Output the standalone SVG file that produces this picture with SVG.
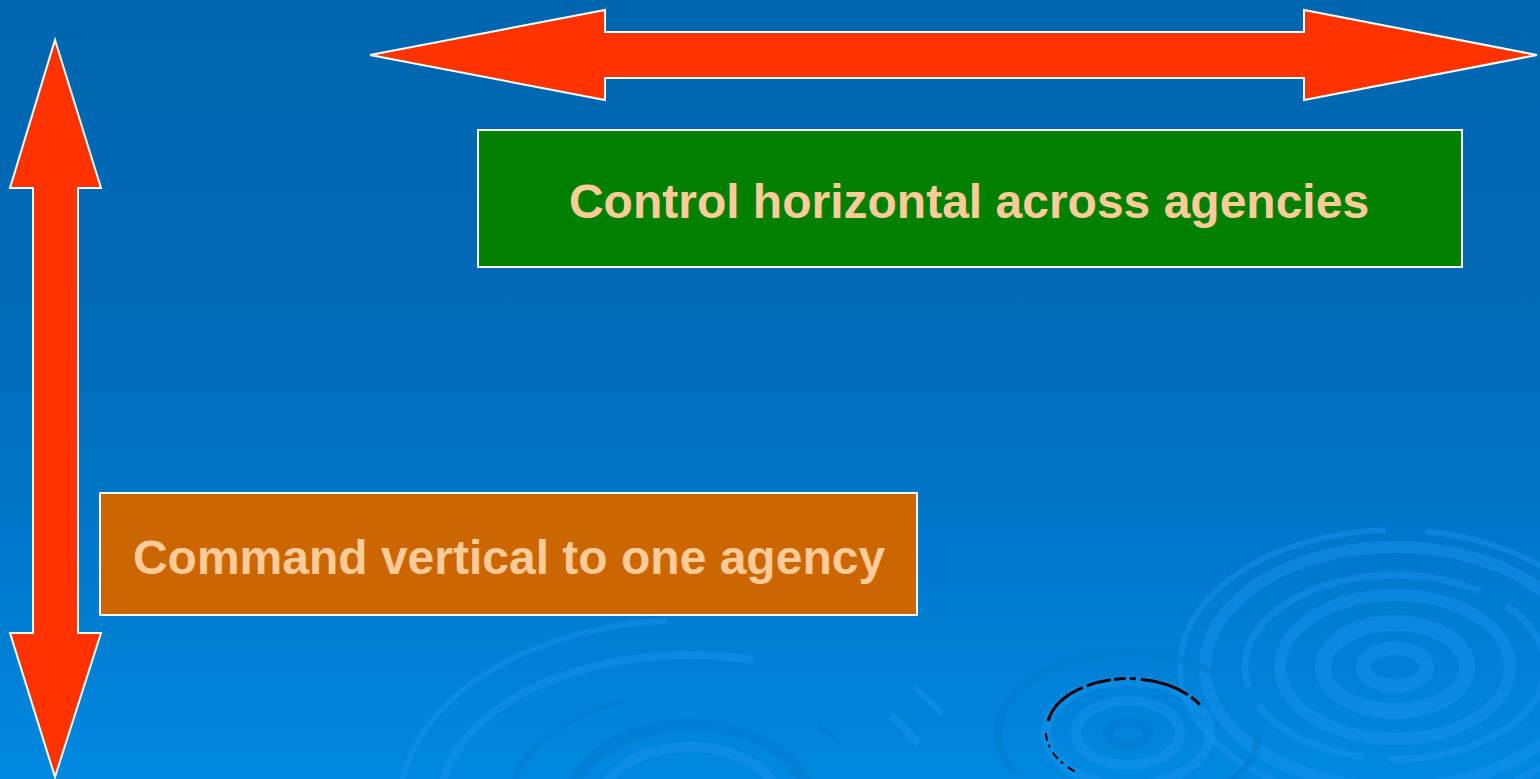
<svg xmlns="http://www.w3.org/2000/svg" width="1540" height="779" viewBox="0 0 1540 779">
<defs>
<linearGradient id="bg" x1="0" y1="0" x2="0" y2="1">
<stop offset="0" stop-color="#0066AF"/>
<stop offset="0.45" stop-color="#006BB8"/>
<stop offset="1" stop-color="#0088E0"/>
</linearGradient>
<style>
.arrow{fill:#FF3300;stroke:#FFFFFF;stroke-width:2;stroke-linejoin:miter}
.box{stroke:#FFFFFF;stroke-width:2}
.lbl{font-family:"Liberation Sans",Arial,sans-serif;font-weight:bold;fill:#FFCC99;text-anchor:middle}
.rip{fill:none;stroke:#1A95F0;stroke-opacity:0.45}
.rip2{fill:none;stroke:#0078CC;stroke-opacity:0.5}
</style>
</defs>
<rect width="1540" height="779" fill="url(#bg)"/>
<g id="ripples">
<g transform="translate(1395,667)">
<ellipse class="rip" rx="215" ry="137" stroke-width="6" stroke-dasharray="300 30 500 40"/>
<ellipse class="rip" rx="190" ry="120" stroke-width="12"/>
<ellipse class="rip" rx="150" ry="92" stroke-width="7" stroke-dasharray="200 25 120 20 300 30"/>
<ellipse class="rip" rx="115" ry="72" stroke-width="12"/>
<ellipse class="rip" rx="72" ry="44" stroke-width="16"/>
<ellipse class="rip" rx="32" ry="19" stroke-width="14"/>
</g>
<g transform="translate(690,805)">
<ellipse class="rip" rx="290" ry="185" stroke-width="6" stroke-dasharray="260 40 180 30 600"/>
<ellipse class="rip" rx="250" ry="150" stroke-width="8" stroke-dasharray="150 40 300 30 500"/>
<ellipse class="rip2" rx="180" ry="112" stroke-width="5" stroke-dasharray="200 30 400"/>
<ellipse class="rip2" rx="120" ry="80" stroke-width="12"/>
<ellipse class="rip" rx="90" ry="58" stroke-width="10"/>
</g>
<g transform="translate(1128,733)">
<ellipse class="rip2" rx="130" ry="80" stroke-width="7" stroke-dasharray="250 40 300"/>
<ellipse class="rip" rx="82" ry="52" stroke-width="10"/>
<ellipse class="rip" rx="52" ry="32" stroke-width="10"/>
<ellipse class="rip2" rx="20" ry="12" stroke-width="10"/>
<path d="M-80,-12 A82,52 0 0 1 72,-28" fill="none" stroke="#000000" stroke-width="3" stroke-dasharray="50 4 25 3 12 4 6 5"/>
<path d="M-82,0 A82,52 0 0 0 -50,40" fill="none" stroke="#000000" stroke-width="2" stroke-dasharray="8 4 3 6"/>
</g>
</g>
<g id="connectors">
<polygon id="arrow-vertical" class="arrow" points="55,40 101,188 78,188 78,633 101,633 55,777 10,633 33,633 33,188 10,188"/>
<polygon id="arrow-horizontal" class="arrow" points="370,55 605,10 605,32 1304,32 1304,10 1537,55 1304,100 1304,78 605,78 605,100"/>
</g>
<g id="node-control">
<rect class="box" x="478" y="130" width="984" height="137" fill="#008000"/>
<text class="lbl" x="969" y="218" font-size="48">Control horizontal across agencies</text>
</g>
<g id="node-command">
<rect class="box" x="100" y="493" width="817" height="122" fill="#CC6600"/>
<text class="lbl" x="509" y="574" font-size="48">Command vertical to one agency</text>
</g>
</svg>
